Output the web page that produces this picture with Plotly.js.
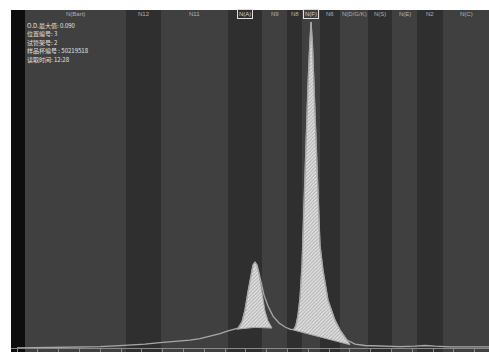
<!DOCTYPE html>
<html><head><meta charset="utf-8">
<script src="https://cdn.plot.ly/plotly-3.0.1.min.js"></script>
<style>html,body{margin:0;padding:0;background:#fff}#c{width:489px;height:352px}</style>
</head><body><div id="c"></div>
<script>
// Zones (fraction labels) and their position ranges
const zoneLabels = ["N(Bart)","N12","N11","N(A)","N9","N8","N(F)","N6","N(D/G/K)","N(S)","N(E)","N2","N(C)"];
const zoneStart  = [14,115,150,217,251,276,291,309,329,357,381,406,432];
const zoneEnd    = [115,150,217,251,276,291,309,329,357,381,406,432,478];
const zoneBoxed  = ["N(A)","N(F)"];

// Absorbance signal (O.D.) vs position
const signalX = [6,29,49,69,89,104,119,134,149,164,179,189,199,209,217,223,227,231,234,237,
  240,242,244,246,248,250,253,257,262,268,274,280,283,285,287,289,291,293,295,297,
  298.5,300,301.5,303,305,307,309,312,317,324,329,336,344,354,369,389,404,414,424,439,459,478];
const signalY = [0,0.0001,0.0001,0.0002,0.0004,0.0006,0.0008,0.0011,0.0015,0.0018,0.0022,0.0026,0.0032,0.0040,0.0047,0.0051,0.0055,0.0072,0.0105,0.0155,
  0.0204,0.0229,0.0237,0.0229,0.0207,0.0179,0.0146,0.0116,0.0088,0.0069,0.0058,0.0051,0.0052,0.0063,0.0091,0.0138,0.0229,0.0395,0.0588,0.0726,
  0.0823,0.0900,0.0836,0.0718,0.0588,0.0409,0.0284,0.0215,0.0132,0.0077,0.0050,0.0022,0.0011,0.0007,0.0005,0.0004,0.0005,0.0007,0.0005,0.0003,0.0003,0.0003];

// Integrated peak N(A)
const peakAX = [226,229,231,234,237,240,242,244,246,248,250,252,254,257,261];
const peakAY = [0.0052,0.0061,0.0072,0.0105,0.0155,0.0204,0.0229,0.0237,0.0229,0.0204,0.0171,0.0135,0.0102,0.0075,0.0055];
const baseAX = [226,244,261];
const baseAY = [0.0052,0.0057,0.0055];

// Integrated peak N(F)
const peakFX = [282,283,285,287,289,291,293,295,297,298.5,300,301.5,303,305,307,309,312,317,324,329,336,339];
const peakFY = [0.0050,0.0052,0.0063,0.0091,0.0138,0.0229,0.0395,0.0588,0.0726,0.0823,0.0900,0.0836,0.0718,0.0588,0.0409,0.0284,0.0215,0.0132,0.0077,0.0050,0.0022,0.0010];
const baseFX = [282,339];
const baseFY = [0.0050,0.0009];

// Info block
const infoLines = ["O.D.最大值: 0.090","位置编号: 3","试管架号: 2","样品杯编号 : 50219518","读取时间: 12:28"];

const lineCol = '#a8a8a8';
const pattern = {shape:'/', fgcolor:'#ebebeb', bgcolor:'#b2b2b2', size:2.5, solidity:0.45};

const traces = [
  {x:baseAX, y:baseAY, mode:'lines', line:{color:lineCol,width:1}, hoverinfo:'skip'},
  {x:peakAX, y:peakAY, mode:'lines', line:{color:lineCol,width:1}, fill:'tonexty', fillcolor:'#c4c4c4', fillpattern:pattern, hoverinfo:'skip'},
  {x:baseFX, y:baseFY, mode:'lines', line:{color:lineCol,width:1}, hoverinfo:'skip'},
  {x:peakFX, y:peakFY, mode:'lines', line:{color:lineCol,width:1}, fill:'tonexty', fillcolor:'#c4c4c4', fillpattern:pattern, hoverinfo:'skip'},
  {x:signalX, y:signalY, mode:'lines', line:{color:lineCol,width:1.3}, hoverinfo:'skip'}
];

const shapes = zoneLabels.map((z,i)=>({
  type:'rect', xref:'x', yref:'paper', x0:zoneStart[i], x1:zoneEnd[i], y0:0, y1:1,
  fillcolor: i%2===0 ? '#404040' : '#2f2f2f', line:{width:0}, layer:'below'
}));

const annotations = zoneLabels.map((z,i)=>{
  const boxed = zoneBoxed.includes(z);
  return {
    text:z, xref:'x', yref:'paper', x:(zoneStart[i]+zoneEnd[i])/2, y:0.9895,
    xanchor:'center', yanchor:'middle', showarrow:false,
    font:{family:'Liberation Sans, Arial, sans-serif', size:6, color:boxed ? '#d0d0d0' : '#b0b0b0'},
    bordercolor: boxed ? '#e0e0e0' : 'rgba(0,0,0,0)', borderwidth: boxed ? 1 : 0, borderpad:1
  };
});
infoLines.forEach((t,i)=>{
  annotations.push({
    text:t, xref:'x', yref:'paper', x:14.5, y:1 - (15.5 + i*8.4)/342,
    xanchor:'left', yanchor:'middle', showarrow:false, borderpad:0,
    font:{family:'Noto Sans CJK SC, sans-serif', size:6, color:'#e2e2e2'}
  });
});

const layout = {
  width:489, height:352,
  margin:{l:11, r:0, t:10, b:0, pad:0},
  paper_bgcolor:'#ffffff', plot_bgcolor:'#0d0d0d',
  showlegend:false,
  xaxis:{range:[0,478], anchor:'free', position:4/342, showgrid:false, zeroline:false,
         showline:true, linecolor:'#8a8a8a', linewidth:1,
         ticks:'outside', ticklen:3, tickcolor:'#8a8a8a', tick0:6, dtick:20.8,
         showticklabels:false, fixedrange:true},
  yaxis:{range:[-0.0011,0.0933], visible:false, showgrid:false, zeroline:false, fixedrange:true},
  shapes:shapes, annotations:annotations
};

Plotly.newPlot('c', traces, layout, {displayModeBar:false, staticPlot:true});
</script>
</body></html>
